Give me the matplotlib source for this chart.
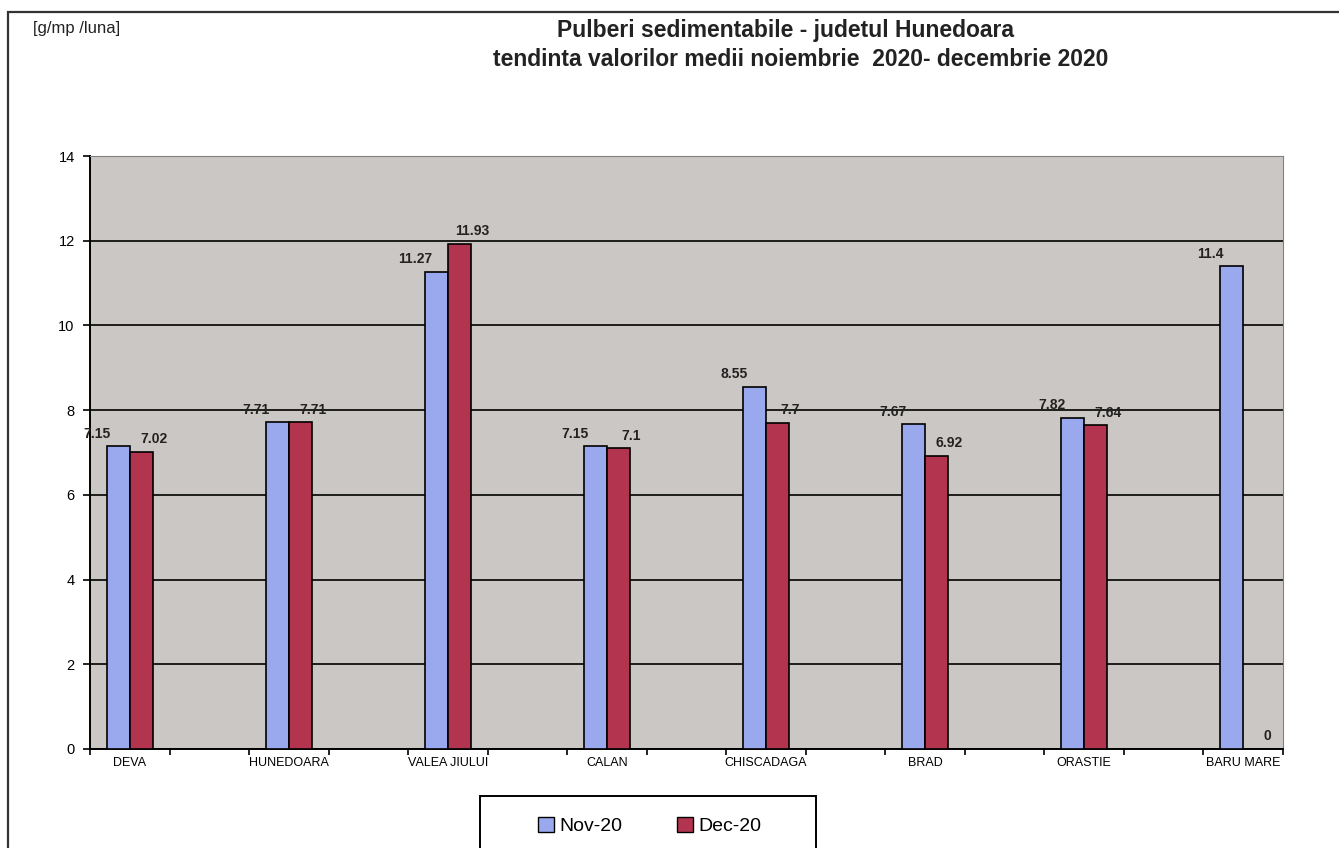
import numpy as np
import matplotlib
matplotlib.use('Agg')
import matplotlib.pyplot as plt
from matplotlib.patches import Rectangle, Patch

plt.rcParams['font.family'] = ['Liberation Sans', 'DejaVu Sans']

# data
stations = ['DEVA', 'HUNEDOARA', 'VALEA JIULUI', 'CALAN', 'CHISCADAGA', 'BRAD', 'ORASTIE', 'BARU MARE']
nov_20 = [7.15, 7.71, 11.27, 7.15, 8.55, 7.67, 7.82, 11.4]
dec_20 = [7.02, 7.71, 11.93, 7.1, 7.7, 6.92, 7.64, 0]
series_names = ['Nov-20', 'Dec-20']
y_ticks = [0, 2, 4, 6, 8, 10, 12, 14]

title_1 = 'Pulberi sedimentabile - judetul Hunedoara'
title_2 = 'tendinta valorilor medii noiembrie  2020- decembrie 2020'
unit_label = '[g/mp /luna]'

nov_col = '#9aa8ee'
dec_col = '#b2344f'
bg_col = '#cbc7c4'

fig = plt.figure(figsize=(13.39, 8.48), dpi=100)
fig.patch.set_facecolor('white')

# outer frame of the scanned chart
fig.patches.append(Rectangle((8 / 1339, -0.1), 1.2, 1 - 12 / 848 + 0.1, transform=fig.transFigure,
                             fill=False, edgecolor='#333333', linewidth=1.6))

ax = fig.add_axes([90 / 1339, 1 - 749 / 848, (1283 - 90) / 1339, (749 - 156) / 848])
ax.set_facecolor(bg_col)

# every station takes a slot, with an empty slot between stations
x = np.arange(len(stations)) * 2
w = 0.29
b1 = ax.bar(x - w / 2, nov_20, w, color=nov_col, edgecolor='black', linewidth=1.2, zorder=3)
b2 = ax.bar(x + w / 2, dec_20, w, color=dec_col, edgecolor='black', linewidth=1.2, zorder=3)

for r, v in zip(b1, nov_20):
    ax.annotate(f'{v:g}', (r.get_x() + r.get_width() / 2, v), xytext=(-15, 4), textcoords='offset points',
                ha='center', va='bottom', fontsize=10, fontweight='bold', color='#222222')
for r, v in zip(b2, dec_20):
    ax.annotate(f'{v:g}', (r.get_x() + r.get_width() / 2, v), xytext=(9, 4), textcoords='offset points',
                ha='center', va='bottom', fontsize=10, fontweight='bold', color='#222222')

ax.set_xlim(-0.5, x[-1] + 0.5)
ax.set_ylim(0, 14)
ax.set_yticks(y_ticks)
ax.set_yticklabels([str(t) for t in y_ticks], fontsize=10.5)
ax.yaxis.grid(True, color='black', linewidth=1.2, zorder=1)
ax.set_axisbelow(True)

ax.set_xticks(np.arange(-0.5, x[-1] + 1, 1))
ax.set_xticklabels([])
ax.set_xticks(x, minor=True)
ax.set_xticklabels(stations, minor=True, fontsize=9)
ax.tick_params(axis='x', which='minor', length=0, pad=6)
ax.tick_params(axis='x', which='major', length=4, width=1.2, direction='out')
ax.tick_params(axis='y', length=5, width=1.2, direction='out', pad=6)

ax.spines['left'].set_linewidth(1.4)
ax.spines['bottom'].set_linewidth(1.4)
ax.spines['top'].set_color('#808080')
ax.spines['right'].set_color('#808080')

fig.text(785 / 1339, 1 - 31 / 848, title_1, ha='center', va='center', fontsize=16.5, fontweight='bold', color='#222222')
fig.text(801 / 1339, 1 - 59 / 848, title_2, ha='center', va='center', fontsize=16.5, fontweight='bold', color='#222222')
fig.text(33 / 1339, 1 - 29 / 848, unit_label, ha='left', va='center', fontsize=12, color='#222222')

# legend box runs off the bottom of the page like in the scan
fig.patches.append(Rectangle((480 / 1339, -0.05), 336 / 1339, 0.05 + 1 - 796 / 848, transform=fig.transFigure,
                             fill=False, edgecolor='black', linewidth=1.4))
handles = [Patch(facecolor=nov_col, edgecolor='black'), Patch(facecolor=dec_col, edgecolor='black')]
fig.legend(handles, series_names, loc='center', bbox_to_anchor=(650 / 1339, 1 - 826 / 848),
           ncol=2, fontsize=14, frameon=False,
           handlelength=0.8, handleheight=0.8, handletextpad=0.3, columnspacing=2.8, borderaxespad=0)

fig.savefig('out.png', dpi=100)
